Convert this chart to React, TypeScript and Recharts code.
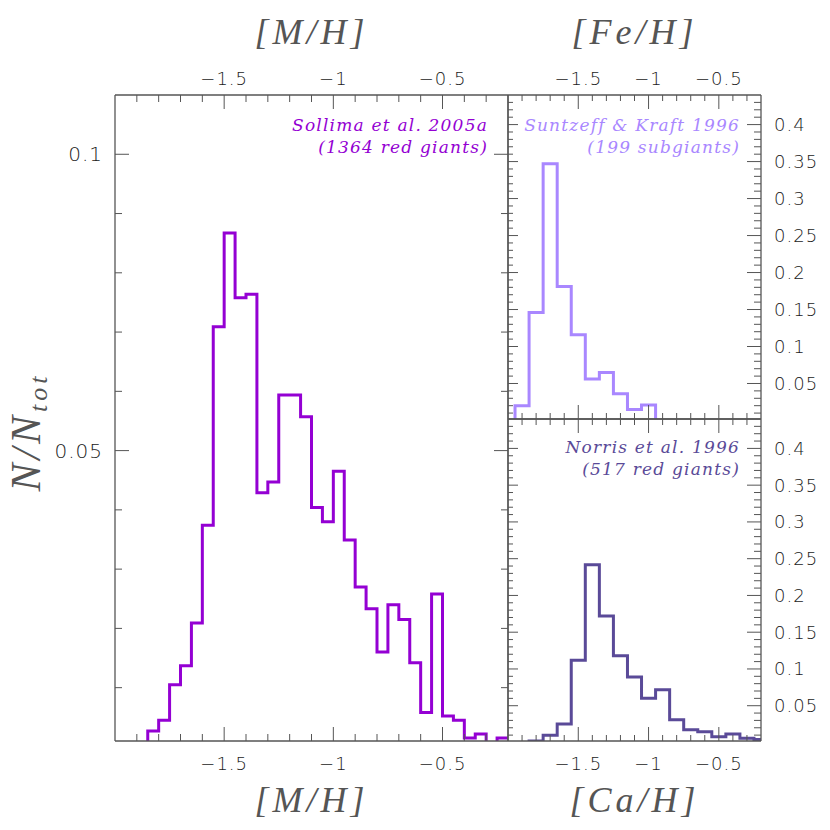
import { LineChart, Line, XAxis, YAxis, Label, Customized } from 'recharts';

const SIZE = 830;
const AXIS = '#555555';
const TICK_FONT = '"DejaVu Sans", sans-serif';
const TITLE_FONT = '"DejaVu Serif", serif';

// Sollima et al. 2005a, [M/H] in 0.05 dex bins (x = left edge of bin)
const mhEdges = [
  -2.0, -1.85, -1.8, -1.75, -1.7, -1.65, -1.6, -1.55, -1.5, -1.45, -1.4, -1.35, -1.3, -1.25, -1.2, -1.15, -1.1,
  -1.05, -1.0, -0.95, -0.9, -0.85, -0.8, -0.75, -0.7, -0.65, -0.6, -0.55, -0.5, -0.45, -0.4, -0.35, -0.3, -0.25, -0.2,
];
const mhFrac = [
  0, 0.0027, 0.0045, 0.0105, 0.0137, 0.0209, 0.0374, 0.0709, 0.0867, 0.0758, 0.0764, 0.0429, 0.0447, 0.0594, 0.0594,
  0.0557, 0.0404, 0.038, 0.0465, 0.0349, 0.027, 0.0233, 0.016, 0.024, 0.0215, 0.0142, 0.0058, 0.0258, 0.0052, 0.0045,
  0.0015, 0.0022, 0, 0.0015, 0.0015,
];

// Suntzeff & Kraft 1996, [Fe/H] in 0.1 dex bins
const feEdges = [-2.0, -1.95, -1.85, -1.75, -1.65, -1.55, -1.45, -1.35, -1.25, -1.15, -1.05, -0.95, -0.2];
const feFrac = [0, 0.02, 0.146, 0.347, 0.181, 0.116, 0.056, 0.065, 0.036, 0.015, 0.021, 0, 0];

// Norris et al. 1996, [Ca/H] in 0.1 dex bins
const caEdges = [
  -2.0, -1.85, -1.75, -1.65, -1.55, -1.45, -1.35, -1.25, -1.15, -1.05, -0.95, -0.85, -0.75, -0.65, -0.55, -0.45, -0.35,
  -0.25, -0.2,
];
const caFrac = [
  0, 0.0019, 0.0097, 0.0251, 0.112, 0.2418, 0.172, 0.118, 0.089, 0.06, 0.0716, 0.031, 0.0174, 0.0145, 0.0077, 0.0116,
  0.0058, 0.0039, 0.0039,
];

const xDomain = [-2, -0.2];
const xTicks = [-1.9, -1.8, -1.7, -1.6, -1.5, -1.4, -1.3, -1.2, -1.1, -1, -0.9, -0.8, -0.7, -0.6, -0.5, -0.4, -0.3];
const xMajor = [-1.5, -1, -0.5];
const xLabels = ['−1.5', '−1', '−0.5'];

const mhYDomain = [0.001, 0.11];
const mhYTicks = [0.01, 0.02, 0.03, 0.04, 0.05, 0.06, 0.07, 0.08, 0.09, 0.1];
const mhYMajor = [0.05, 0.1];
const mhYLabels = ['0.05', '0.1'];

const fracYDomain = [0.002, 0.44];
const fracYTicks = Array.from({ length: 43 }, (_, i) => +((i + 1) * 0.01).toFixed(2));
const fracYMajor = [0.05, 0.1, 0.15, 0.2, 0.25, 0.3, 0.35, 0.4];
const fracYLabels = ['0.05', '0.1', '0.15', '0.2', '0.25', '0.3', '0.35', '0.4'];

const toRows = (xs: number[], ys: number[]) => xs.map((x, i) => ({ x, y: ys[i] }));

type Side = 'top' | 'bottom' | 'left' | 'right';

// ticks point into the frame, labels (majors only) sit outside
function frameTick(
  side: Side,
  majors: number[],
  labels: string[] | null,
  minorLen: number,
  majorLen: number,
  gap = 0,
  fontSize = 18,
) {
  return (props: any) => {
    const { x, y, payload } = props;
    const k = majors.findIndex((m) => Math.abs(m - payload.value) < 1e-6);
    const len = k >= 0 ? majorLen : minorLen;
    const dx = side === 'left' ? len : side === 'right' ? -len : 0;
    const dy = side === 'bottom' ? -len : side === 'top' ? len : 0;
    let text = null;
    if (labels && k >= 0) {
      const tx = side === 'left' ? x - gap : side === 'right' ? x + gap : x;
      const ty = side === 'bottom' ? y + gap : side === 'top' ? y - gap : y;
      const anchor = side === 'left' ? 'end' : side === 'right' ? 'start' : 'middle';
      text = (
        <text
          x={tx}
          y={ty}
          textAnchor={anchor}
          dominantBaseline="central"
          fontFamily={TICK_FONT}
          fontSize={fontSize}
          fontWeight={300}
          letterSpacing={1}
          fill="#1a1a1a"
        >
          {labels[k]}
        </text>
      );
    }
    return (
      <g>
        <line x1={x} y1={y} x2={x + dx} y2={y + dy} stroke={AXIS} strokeWidth={1} />
        {text}
      </g>
    );
  };
}

const titleStyle = {
  fontFamily: '"Liberation Serif", serif',
  fontStyle: 'italic' as const,
  fontSize: 36,
  letterSpacing: 4,
  fill: '#555',
};

function Note({ x, y, lines, color }: { x: number; y: number; lines: string[]; color: string }) {
  return (
    <g>
      {lines.map((s, i) => (
        <text
          key={s}
          x={x}
          y={y + i * 22}
          textAnchor="end"
          fontFamily={TITLE_FONT}
          fontStyle="italic"
          fontSize={17}
          letterSpacing={1.2}
          fill={color}
        >
          {s}
        </text>
      ))}
    </g>
  );
}

function YTitle() {
  return (
    <text
      x={40}
      y={432}
      transform="rotate(-90 40 432)"
      textAnchor="middle"
      fontFamily='"Liberation Serif", serif'
      fontStyle="italic"
      fontSize={42}
      letterSpacing={4}
      fill="#555"
    >
      N/N
      <tspan dy={7} fontSize={26}>
        tot
      </tspan>
    </text>
  );
}

interface PanelProps {
  rows: { x: number; y: number }[];
  color: string;
  // plot box in page pixels
  box: { left: number; top: number; right: number; bottom: number };
  yDomain: number[];
  yTicks: number[];
  yMajor: number[];
  leftLabels: string[] | null;
  rightLabels: string[] | null;
  topLabels: boolean;
  bottomLabels: boolean;
  sideLen: { left: [number, number]; right: [number, number]; x: [number, number] };
  yFont: number;
  topTitle?: string;
  bottomTitle?: string;
  children?: React.ReactNode;
}

function Panel(p: PanelProps) {
  const [xMin, xMaj] = p.sideLen.x;
  // each axis takes 1px, so pull the margins in by one
  const margin = {
    top: p.box.top - 1,
    left: p.box.left - 1,
    right: SIZE - p.box.right - 1,
    bottom: SIZE - p.box.bottom - 1,
  };
  return (
    <div style={{ position: 'absolute', left: 0, top: 0 }}>
      <LineChart width={SIZE} height={SIZE} data={p.rows} margin={margin}>
        <Line
          xAxisId="b"
          yAxisId="l"
          dataKey="y"
          type="stepAfter"
          stroke={p.color}
          strokeWidth={3}
          dot={false}
          isAnimationActive={false}
        />
        <XAxis
          xAxisId="b"
          orientation="bottom"
          dataKey="x"
          type="number"
          domain={xDomain}
          allowDataOverflow
          ticks={xTicks}
          interval={0}
          height={1}
          tickSize={0}
          tickMargin={0}
          tickLine={false}
          axisLine={{ stroke: AXIS, strokeWidth: 1.3 }}
          tick={frameTick('bottom', xMajor, p.bottomLabels ? xLabels : null, xMin, xMaj, 22)}
        >
          {p.bottomTitle && <Label value={p.bottomTitle} position="bottom" offset={44} style={titleStyle} />}
        </XAxis>
        <XAxis
          xAxisId="t"
          orientation="top"
          dataKey="x"
          type="number"
          domain={xDomain}
          allowDataOverflow
          ticks={xTicks}
          interval={0}
          height={1}
          tickSize={0}
          tickMargin={0}
          tickLine={false}
          axisLine={{ stroke: AXIS, strokeWidth: 1.3 }}
          tick={frameTick('top', xMajor, p.topLabels ? xLabels : null, xMin, xMaj, 17)}
        >
          {p.topTitle && <Label value={p.topTitle} position="top" offset={50} style={titleStyle} />}
        </XAxis>
        <YAxis
          yAxisId="l"
          orientation="left"
          type="number"
          domain={p.yDomain}
          allowDataOverflow
          ticks={p.yTicks}
          interval={0}
          width={1}
          tickSize={0}
          tickMargin={0}
          tickLine={false}
          axisLine={{ stroke: AXIS, strokeWidth: 1.3 }}
          tick={frameTick('left', p.yMajor, p.leftLabels, p.sideLen.left[0], p.sideLen.left[1], 12, p.yFont)}
        />
        <YAxis
          yAxisId="r"
          orientation="right"
          type="number"
          domain={p.yDomain}
          allowDataOverflow
          ticks={p.yTicks}
          interval={0}
          width={1}
          tickSize={0}
          tickMargin={0}
          tickLine={false}
          axisLine={{ stroke: AXIS, strokeWidth: 1.3 }}
          tick={frameTick('right', p.yMajor, p.rightLabels, p.sideLen.right[0], p.sideLen.right[1], 13, p.yFont)}
        />
        {p.children}
      </LineChart>
    </div>
  );
}

export default function App() {
  return (
    <div
      style={{ position: 'absolute', left: 0, top: 0, width: SIZE, height: SIZE, background: '#fff', overflow: 'hidden' }}
    >
      <Panel
        rows={toRows(mhEdges, mhFrac)}
        color="#9400D3"
        box={{ left: 115, top: 95, right: 508, bottom: 741 }}
        yDomain={mhYDomain}
        yTicks={mhYTicks}
        yMajor={mhYMajor}
        leftLabels={mhYLabels}
        rightLabels={null}
        topLabels
        bottomLabels
        sideLen={{ left: [7, 14], right: [7, 14], x: [7, 14] }}
        yFont={20}
        topTitle="[M/H]"
        bottomTitle="[M/H]"
      >
        <Customized
          component={() => (
            <g>
              <YTitle />
              <Note x={488} y={131} lines={['Sollima et al. 2005a', '(1364 red giants)']} color="#9400D3" />
            </g>
          )}
        />
      </Panel>
      <Panel
        rows={toRows(feEdges, feFrac)}
        color="#A987FF"
        box={{ left: 508, top: 95, right: 761, bottom: 419 }}
        yDomain={fracYDomain}
        yTicks={fracYTicks}
        yMajor={fracYMajor}
        leftLabels={null}
        rightLabels={fracYLabels}
        topLabels
        bottomLabels={false}
        sideLen={{ left: [5, 10], right: [7, 14], x: [6, 14] }}
        yFont={18}
        topTitle="[Fe/H]"
      >
        <Customized
          component={() => (
            <Note x={740} y={131} lines={['Suntzeff & Kraft 1996', '(199 subgiants)']} color="#A987FF" />
          )}
        />
      </Panel>
      <Panel
        rows={toRows(caEdges, caFrac)}
        color="#5A4A98"
        box={{ left: 508, top: 419, right: 761, bottom: 741 }}
        yDomain={fracYDomain}
        yTicks={fracYTicks}
        yMajor={fracYMajor}
        leftLabels={null}
        rightLabels={fracYLabels}
        topLabels={false}
        bottomLabels
        sideLen={{ left: [5, 10], right: [7, 14], x: [6, 14] }}
        yFont={18}
        bottomTitle="[Ca/H]"
      >
        <Customized
          component={() => (
            <Note x={740} y={453} lines={['Norris et al. 1996', '(517 red giants)']} color="#5A4A98" />
          )}
        />
      </Panel>
    </div>
  );
}
